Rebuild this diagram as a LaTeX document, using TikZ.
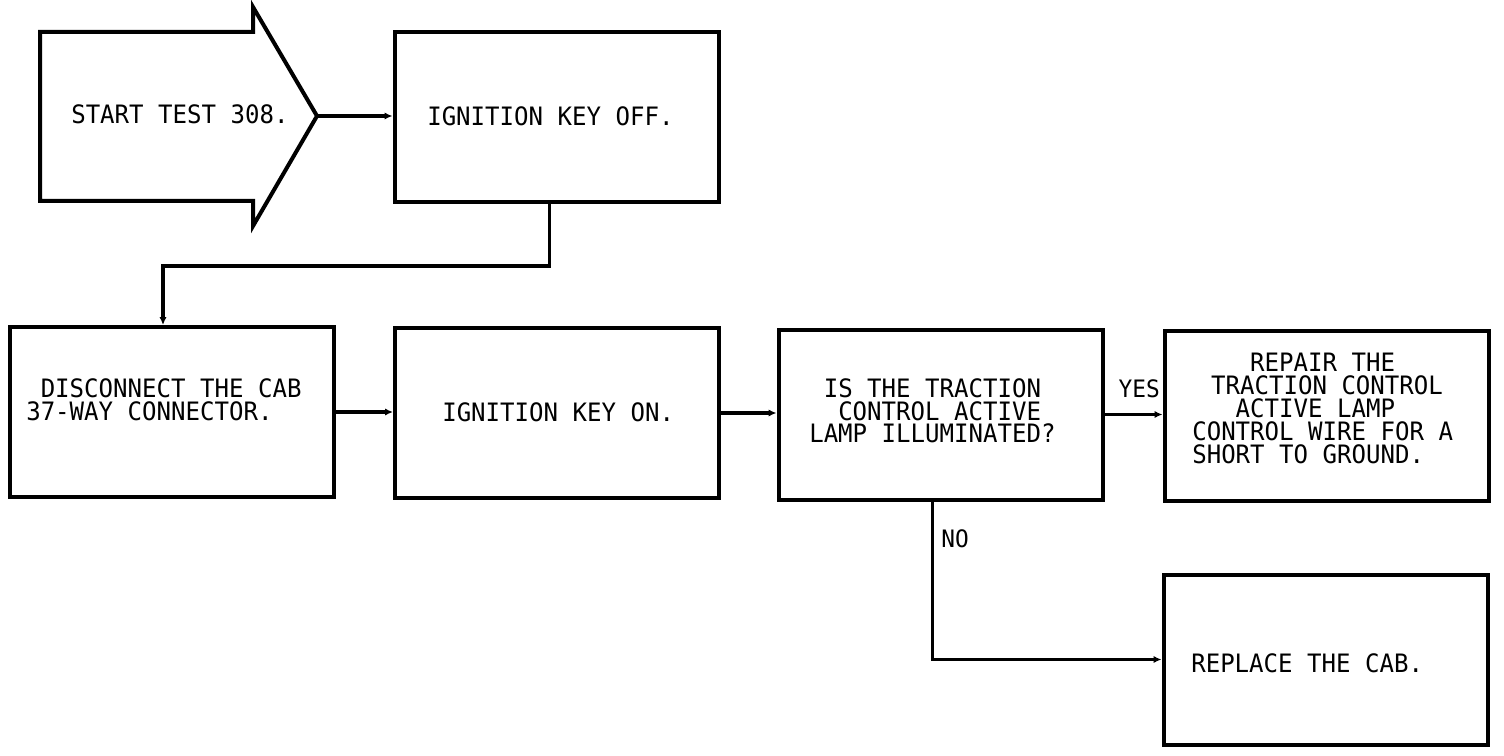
\documentclass[tikz,border=0pt]{standalone}
\usepackage{fontspec}
\newfontfamily\plotfont[FakeStretch=0.95]{DejaVu Sans Mono}
\usetikzlibrary{arrows.meta,calc}
\newcommand\leadsp[1]{\hspace*{#1\fontcharwd\font`0}}
\tikzset{
  boxnode/.style={draw, line width=3pt, minimum width=243pt, minimum height=127.5pt, inner sep=0pt},
  conn/.style={line width=2.6pt, -{Latex[length=6pt,width=5.5pt]}},
  txt/.style={font=\plotfont\fontsize{19pt}{17.2pt}\selectfont, align=left, inner sep=0pt, anchor=north west},
  lbl/.style={font=\plotfont\fontsize{18pt}{16pt}\selectfont, inner sep=0pt},
}
\begin{document}
\begin{tikzpicture}[x=0.75pt,y=-0.75pt]
\useasboundingbox (0,0) rectangle (1504,756);
% start arrow shape
\draw[line width=3pt, line join=miter] (40,32) -- (253,32) -- (253,7) -- (317,116) -- (253,226) -- (253,201) -- (40,201) -- cycle;
\coordinate (starttip) at (317,116);
\node[txt] (starttxt) at (71,104) {START TEST 308.};
% boxes
\node[boxnode] (ignoff) at (556.5,117) {};
\node[boxnode] (dis) at (172,412) {};
\node[boxnode] (ignon) at (557,413) {};
\node[boxnode] (trac) at (940.5,414.5) {};
\node[boxnode] (rep) at (1326.5,415.5) {};
\node[boxnode] (repl) at (1325.5,659.5) {};
% texts
\node[txt] (ignofftxt) at (427,106) {IGNITION KEY OFF.};
\node[txt] (distxt) at (26,378) {\leadsp{1}DISCONNECT THE CAB\\37-WAY CONNECTOR.};
\node[txt] (ignontxt) at (442,402) {IGNITION KEY ON.};
\node[txt] (tractxt) at (809,378) {\leadsp{1}IS THE TRACTION\\\leadsp{2}CONTROL ACTIVE\\LAMP ILLUMINATED?};
\node[txt] (reptxt) at (1192,353) {\leadsp{4}REPAIR THE\\\leadsp{1.3}TRACTION CONTROL\\\leadsp{3}ACTIVE LAMP\\CONTROL WIRE FOR A\\SHORT TO GROUND.};
\node[txt] (repltxt) at (1191,653) {REPLACE THE CAB.};
% connectors
\draw[conn] (starttip) -- (starttip -| ignoff.west);
\draw[conn] ($(ignoff.south)+(-7,0)$) -- ++(0,62) -| ($(dis.north)+(-9,0)$);
\draw[conn] (dis.east) -- (dis.east -| ignon.west);
\draw[conn] (ignon.east) -- (ignon.east -| trac.west);
\draw[conn] (trac.east) -- (trac.east -| rep.west);
\draw[conn] ($(trac.south)+(-8,0)$) |- (repl.west);
% labels
\node[lbl, anchor=south east] (yes) at (1160,398) {YES};
\node[lbl, anchor=north west] (no) at (941,529) {NO};
\end{tikzpicture}
\end{document}
